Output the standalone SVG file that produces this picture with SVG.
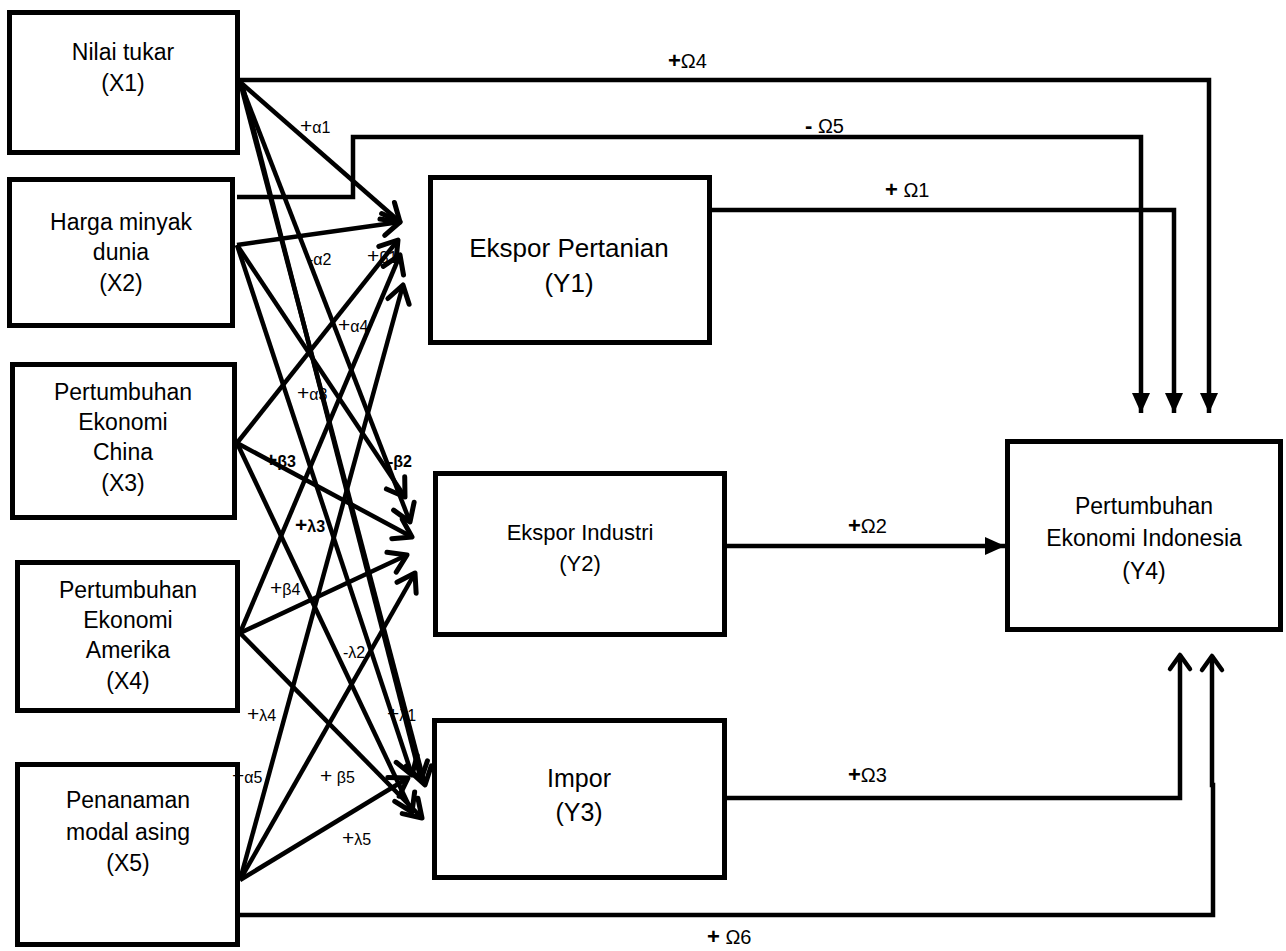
<svg xmlns="http://www.w3.org/2000/svg" width="1286" height="951" viewBox="0 0 1286 951">
<style>
.box{fill:#fff;stroke:#000;stroke-width:5}
.t{font-family:"Liberation Sans",Arial,sans-serif;fill:#000;text-anchor:middle}
.x{font-size:23px}
.y1{font-size:26px}
.y3{font-size:25px}
.ys{font-size:22px}
.y4{font-size:23px}
.c{fill:none;stroke:#000;stroke-width:4.5;stroke-linejoin:miter}
.d{fill:none;stroke:#000;stroke-width:4.5}
.lb{font-family:"Liberation Sans",Arial,sans-serif;fill:#000;font-size:16px}
.pl{font-size:21px}
.bd{font-weight:bold}
.om{font-family:"Liberation Sans",Arial,sans-serif;fill:#000;font-size:20px}
.ob{font-weight:bold;font-size:22px}
</style>
<defs>
<marker id="op" markerUnits="userSpaceOnUse" viewBox="-22 -14 26 28" markerWidth="26" markerHeight="28" refX="0" refY="0" orient="auto">
<path d="M-17,-11 L0,0 L-17,11" fill="none" stroke="#000" stroke-width="5" stroke-linecap="round" stroke-linejoin="round"/>
</marker>
<marker id="fl" markerUnits="userSpaceOnUse" viewBox="-22 -11 24 22" markerWidth="24" markerHeight="22" refX="0" refY="0" orient="auto">
<path d="M-20,-9 L0,0 L-20,9 Z" fill="#000"/>
</marker>
<marker id="up" markerUnits="userSpaceOnUse" viewBox="-20 -14 24 28" markerWidth="24" markerHeight="28" refX="0" refY="0" orient="auto">
<path d="M-14,-10 L0,0 L-14,10" fill="none" stroke="#000" stroke-width="4.5" stroke-linecap="round" stroke-linejoin="round"/>
</marker>
</defs>
<rect width="1286" height="951" fill="#fff"/>

<g id="connectors">
<polyline class="c" points="240,80 1209,80 1209,413" marker-end="url(#fl)"/>
<polyline class="c" points="237,197 353,197 353,137 1141,137 1141,413" marker-end="url(#fl)"/>
<polyline class="c" points="712,210 1174,210 1174,413" marker-end="url(#fl)"/>
<line class="c" x1="727" y1="546" x2="1005" y2="546" marker-end="url(#fl)"/>
<polyline class="c" points="727,798 1180,798 1180,655" marker-end="url(#up)"/>
<polyline class="c" points="240,915 1213,915 1213,785 1212,785 1212,656" marker-end="url(#up)"/>

<line class="d" x1="240" y1="82" x2="400" y2="222" marker-end="url(#op)"/>
<line class="d" x1="237" y1="245" x2="400" y2="222" marker-end="url(#op)"/>
<line class="d" x1="237" y1="443" x2="398" y2="240" marker-end="url(#op)"/>
<line class="d" x1="240" y1="633" x2="400" y2="255" marker-end="url(#op)"/>
<line class="d" x1="240" y1="880" x2="403" y2="285" marker-end="url(#op)"/>
<line class="d" x1="240" y1="82" x2="410" y2="522" marker-end="url(#op)"/>
<line class="d" x1="237" y1="245" x2="405" y2="497" marker-end="url(#op)"/>
<line class="d" x1="237" y1="443" x2="412" y2="537" marker-end="url(#op)"/>
<line class="d" x1="240" y1="633" x2="407" y2="555" marker-end="url(#op)"/>
<line class="d" x1="240" y1="880" x2="415" y2="573" marker-end="url(#op)"/>
<line class="d" x1="240" y1="82" x2="425" y2="785" stroke-width="7" marker-end="url(#op)"/>
<line class="d" x1="242" y1="84" x2="421" y2="780" marker-end="url(#op)"/>
<line class="d" x1="237" y1="245" x2="412" y2="775" marker-end="url(#op)"/>
<line class="d" x1="237" y1="443" x2="412" y2="812" marker-end="url(#op)"/>
<line class="d" x1="240" y1="633" x2="422" y2="818" marker-end="url(#op)"/>
<line class="d" x1="240" y1="880" x2="408" y2="778" marker-end="url(#op)"/>
</g>

<g id="X1">
<rect class="box" x="9.5" y="12.5" width="228" height="140"/>
<text class="t x" x="123" y="60">Nilai tukar</text>
<text class="t x" x="123" y="91">(X1)</text>
</g>
<g id="X2">
<rect class="box" x="9.5" y="179.5" width="223" height="146"/>
<text class="t x" x="121" y="230">Harga minyak</text>
<text class="t x" x="121" y="260">dunia</text>
<text class="t x" x="121" y="291">(X2)</text>
</g>
<g id="X3">
<rect class="box" x="12.5" y="364.5" width="222" height="153"/>
<text class="t x" x="123" y="400">Pertumbuhan</text>
<text class="t x" x="123" y="430">Ekonomi</text>
<text class="t x" x="123" y="460">China</text>
<text class="t x" x="123" y="491">(X3)</text>
</g>
<g id="X4">
<rect class="box" x="17.5" y="562.5" width="220" height="148"/>
<text class="t x" x="128" y="598">Pertumbuhan</text>
<text class="t x" x="128" y="628">Ekonomi</text>
<text class="t x" x="128" y="658">Amerika</text>
<text class="t x" x="128" y="689">(X4)</text>
</g>
<g id="X5">
<rect class="box" x="17.5" y="764.5" width="220" height="180"/>
<text class="t x" x="128" y="808">Penanaman</text>
<text class="t x" x="128" y="840">modal asing</text>
<text class="t x" x="128" y="871">(X5)</text>
</g>
<g id="Y1">
<rect class="box" x="430.5" y="177.5" width="279" height="165"/>
<text class="t y1" x="569" y="257">Ekspor Pertanian</text>
<text class="t y1" x="569" y="292">(Y1)</text>
</g>
<g id="Y2">
<rect class="box" x="435.5" y="473.5" width="289" height="161"/>
<text class="t ys" x="580" y="540">Ekspor Industri</text>
<text class="t ys" x="580" y="571">(Y2)</text>
</g>
<g id="Y3">
<rect class="box" x="434.5" y="720.5" width="290" height="157"/>
<text class="t y3" x="579" y="787">Impor</text>
<text class="t y3" x="579" y="821">(Y3)</text>
</g>
<g id="Y4">
<rect class="box" x="1007.5" y="441.5" width="273" height="188"/>
<text class="t y4" x="1144" y="514">Pertumbuhan</text>
<text class="t y4" x="1144" y="546">Ekonomi Indonesia</text>
<text class="t y4" x="1144" y="579">(Y4)</text>
</g>

<g id="labels">
<text class="lb" x="300" y="133"><tspan class="pl">+</tspan>α1</text>
<text class="lb" x="308" y="265">-α2</text>
<text class="lb" x="367" y="263"><tspan class="pl">+</tspan>β1</text>
<text class="lb" x="338" y="332"><tspan class="pl">+</tspan>α4</text>
<text class="lb" x="297" y="400"><tspan class="pl">+</tspan>α3</text>
<text class="lb bd" x="265" y="467"><tspan class="pl">+</tspan>β3</text>
<text class="lb bd" x="388" y="467">-β2</text>
<text class="lb bd" x="295" y="532"><tspan class="pl">+</tspan>λ3</text>
<text class="lb" x="270" y="595"><tspan class="pl">+</tspan>β4</text>
<text class="lb" x="343" y="658">-λ2</text>
<text class="lb" x="247" y="721"><tspan class="pl">+</tspan>λ4</text>
<text class="lb" x="387" y="721"><tspan class="pl">+</tspan>λ1</text>
<text class="lb" x="232" y="783"><tspan class="pl">+</tspan>α5</text>
<text class="lb" x="320" y="783"><tspan class="pl">+</tspan> β5</text>
<text class="lb" x="342" y="845"><tspan class="pl">+</tspan>λ5</text>
<text class="om" x="668" y="68"><tspan class="ob">+</tspan>Ω4</text>
<text class="om" x="805" y="133"><tspan class="ob">-</tspan> Ω5</text>
<text class="om" x="885" y="197"><tspan class="ob">+</tspan> Ω1</text>
<text class="om" x="848" y="533"><tspan class="ob">+</tspan>Ω2</text>
<text class="om" x="848" y="782"><tspan class="ob">+</tspan>Ω3</text>
<text class="om" x="707" y="944"><tspan class="ob">+</tspan> Ω6</text>
</g>
</svg>
